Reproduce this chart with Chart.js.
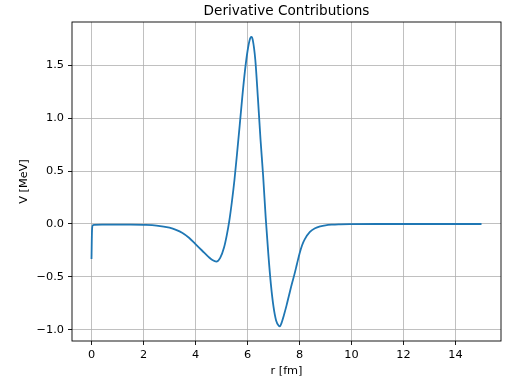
<!DOCTYPE html>
<html>
<head>
<meta charset="utf-8">
<script src="https://cdn.jsdelivr.net/npm/chart.js@4/dist/chart.umd.min.js"></script>
<style>
  html, body { margin: 0; padding: 0; background: #fff; }
  #wrap { width: 521px; height: 383px; }
</style>
</head>
<body>
<div id="wrap"><canvas id="myChart" width="521" height="383"></canvas></div>
<script>
// valores
var rValues = [0, 0.02, 0.05, 0.1, 0.5, 1, 1.5, 2, 2.5, 3, 3.25, 3.5, 3.75, 4, 4.25, 4.5, 4.65, 4.8, 4.95,
    5.1, 5.2, 5.3, 5.4, 5.5, 5.6, 5.7, 5.8, 5.9, 6.0, 6.1, 6.15, 6.2, 6.3, 6.4, 6.5, 6.6, 6.7, 6.8, 6.9,
    7.0, 7.1, 7.2, 7.25, 7.3, 7.4, 7.5, 7.6, 7.7, 7.8, 7.9, 8.0, 8.1, 8.2, 8.4, 8.6, 8.8, 9.0, 9.25, 9.5,
    10, 11, 12, 13, 14, 15];
var vValues = [-0.33, -0.06, -0.012, -0.008, -0.006, -0.005, -0.005, -0.008, -0.015, -0.035, -0.055, -0.085, -0.13, -0.19, -0.25, -0.31, -0.34, -0.355, -0.32,
    -0.22, -0.11, 0.03, 0.21, 0.42, 0.67, 0.93, 1.2, 1.44, 1.63, 1.75, 1.765, 1.74, 1.55, 1.19, 0.8, 0.46, 0.06, -0.28, -0.57,
    -0.78, -0.91, -0.96, -0.965, -0.94, -0.86, -0.77, -0.67, -0.57, -0.48, -0.38, -0.28, -0.2, -0.145, -0.075, -0.04, -0.022, -0.012, -0.006, -0.003,
    -0.001, 0, 0, 0, 0, 0];
var xTicks = [0, 2, 4, 6, 8, 10, 12, 14];
var yTicks = [-1.0, -0.5, 0.0, 0.5, 1.0, 1.5];

var points = rValues.map(function (r, i) { return { x: r, y: vValues[i] }; });

var font = "'DejaVu Sans', sans-serif";
Chart.defaults.font.family = font;
Chart.defaults.color = '#000';

// moldura e titulo estilo matplotlib
var framePlugin = {
    id: 'frame',
    afterDraw: function (chart) {
        var c = chart.ctx, a = chart.chartArea;
        c.save();
        c.strokeStyle = '#000';
        c.lineWidth = 0.9;
        c.strokeRect(a.left, a.top, a.right - a.left, a.bottom - a.top);
        c.fillStyle = '#000';
        c.font = '13.6px ' + font;
        c.textAlign = 'center';
        c.textBaseline = 'bottom';
        c.fillText('Derivative Contributions', (a.left + a.right) / 2, a.top - 4);
        c.restore();
    }
};

var ctx = document.getElementById('myChart').getContext('2d');
new Chart(ctx, {
    type: 'line',
    data: {
        datasets: [{
            data: points,
            borderColor: '#1f77b4',
            borderWidth: 1.8,
            pointRadius: 0,
            fill: false,
            cubicInterpolationMode: 'monotone'
        }]
    },
    options: {
        responsive: false,
        animation: false,
        layout: { padding: { top: 22, right: 20, left: 0, bottom: 0 } },
        plugins: { legend: { display: false }, tooltip: { enabled: false }, title: { display: false } },
        scales: {
            x: {
                type: 'linear',
                min: -0.75,
                max: 15.75,
                afterFit: function (s) { s.height = 42; },
                afterBuildTicks: function (s) { s.ticks = xTicks.map(function (v) { return { value: v }; }); },
                ticks: {
                    font: { size: 11.3 },
                    padding: 3,
                    maxRotation: 0,
                    callback: function (v) { return String(v); }
                },
                grid: { color: '#b0b0b0', lineWidth: 0.8, tickLength: 4, tickColor: '#000', tickWidth: 0.9 },
                border: { display: false },
                title: { display: true, text: 'r [fm]', font: { size: 11.3 }, padding: { top: 0, bottom: 5 } }
            },
            y: {
                min: -1.104,
                max: 1.906,
                afterFit: function (s) { s.width = 72; },
                afterBuildTicks: function (s) { s.ticks = yTicks.map(function (v) { return { value: v }; }); },
                ticks: {
                    font: { size: 11.3 },
                    padding: 4,
                    callback: function (v) { return v.toFixed(1).replace('-', '\u2212'); }
                },
                grid: { color: '#b0b0b0', lineWidth: 0.8, tickLength: 4, tickColor: '#000', tickWidth: 0.9 },
                border: { display: false },
                title: { display: true, text: 'V [MeV]', font: { size: 11.3 }, padding: { top: 17, bottom: 0 } }
            }
        }
    },
    plugins: [framePlugin]
});
</script>
</body>
</html>
